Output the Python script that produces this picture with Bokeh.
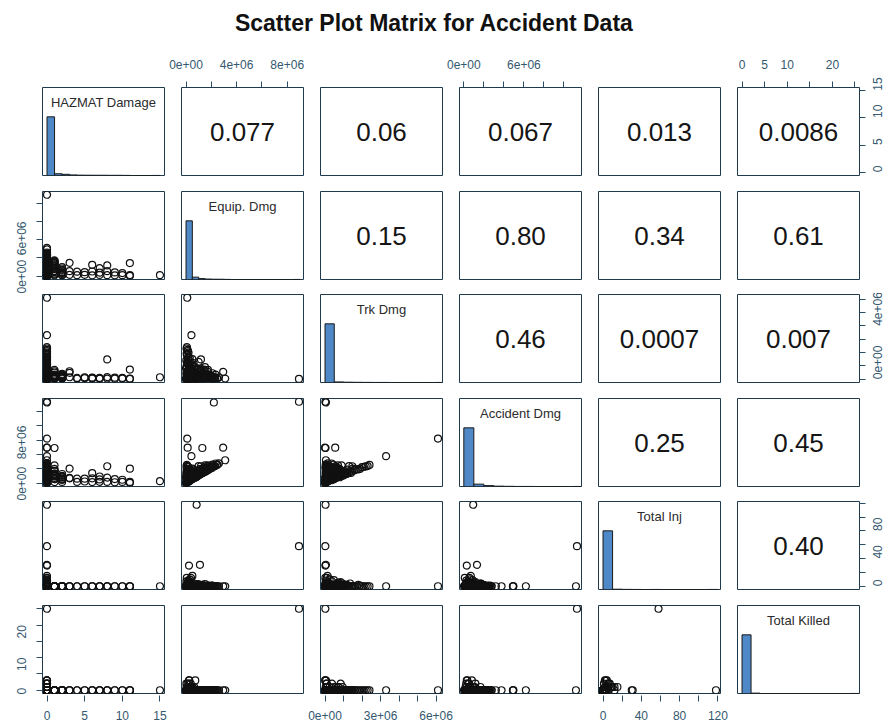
import math
import numpy as np
from bokeh.plotting import figure
from bokeh.layouts import gridplot, column, row
from bokeh.models import Range1d, LinearAxis, FixedTicker, Label, Spacer
from bokeh.embed import file_html
from bokeh.resources import INLINE

# ---------------------------------------------------------------- texts
title_text = "Scatter Plot Matrix  for Accident Data"
var_labels = ["HAZMAT Damage", "Equip. Dmg", "Trk Dmg", "Accident Dmg", "Total Inj", "Total Killed"]

# correlations shown in the upper panels (row-major, upper triangle)
corr_labels = ["0.077", "0.06", "0.067", "0.013", "0.0086",
               "0.15", "0.80", "0.34", "0.61",
               "0.46", "0.0007", "0.007",
               "0.25", "0.45",
               "0.40"]

# ---------------------------------------------------------------- records
hazmat = [
    0, 0, 0, 15, 0, 0, 0, 1, 0, 0, 0, 0, 8, 11, 3, 6, 7, 1, 2, 0,
    2, 2, 3, 3, 4, 4, 5, 5, 6, 6, 7, 7, 8, 8, 9, 9, 10, 10, 11, 11,
    1, 1, 1, 1, 1, 2, 2,
    0, 0, 0, 0, 0, 0, 0, 0, 0, 0, 0, 0, 0, 0, 0, 0, 0, 0, 0, 0,
    0, 0, 0, 0, 0, 0, 0, 0, 0, 0, 0, 0, 0, 0, 0,
    0, 0, 0, 0, 0, 0, 0, 0, 0, 0, 0, 0, 0,
    0, 0, 0, 0, 0, 0, 0, 0, 0, 0,
    0, 0, 0, 0, 0, 0,
    1, 1, 1, 2, 2, 1,
    0, 0, 0, 0, 0, 0, 0, 0, 0, 0, 0, 0, 0, 0,
    0, 0, 0, 0, 0, 0, 0, 0, 0, 0,
    1, 1, 1, 1, 1, 2, 2, 2,
    0, 0, 0, 0, 0, 0, 0, 0, 0, 0, 0, 0, 0, 0, 0, 0, 0, 0, 0, 0, 0, 0,
    0, 0, 0, 0, 0, 0, 0, 0, 0, 0, 0, 0,
]
equip_musd = [
    8.93, 2.20, 0.10, 0.12, 0.84, 0.43, 0.13, 1.29, 2.94, 0.24, 1.10, 0.73, 1.18, 1.44, 1.47, 1.25, 0.88, 1.73, 0.99, 0.40,
    0.45, 0.10, 0.55, 0.15, 0.50, 0.12, 0.45, 0.15, 0.52, 0.10, 0.40, 0.14, 0.55, 0.12, 0.42, 0.10, 0.35, 0.12, 0.13, 0.05,
    0.80, 0.45, 0.20, 1.10, 0.10, 0.70, 0.25,
    0.00, 0.02, 0.05, 0.08, 0.10, 0.12, 0.15, 0.18, 0.20, 0.22, 0.25, 0.28, 0.30, 0.33, 0.35, 0.38, 0.40, 0.45, 0.50, 0.55,
    0.05, 0.10, 0.15, 0.20, 0.30, 0.00, 0.03, 0.06, 0.12, 0.25, 0.60, 0.08, 0.18, 0.35, 0.42,
    0.70, 0.85, 1.00, 1.20, 1.35, 1.50, 1.65, 1.80, 2.00, 2.25, 2.45, 2.60, 3.10,
    0.05, 0.10, 0.02, 0.15, 0.08, 0.20, 0.04, 0.30, 0.12, 0.50,
    0.90, 1.20, 0.60, 1.50, 0.70, 1.00,
    1.40, 0.60, 0.30, 0.40, 0.15, 1.55,
    0.80, 1.05, 1.30, 1.60, 1.90, 2.10, 2.35, 0.95, 1.15, 1.45, 1.75, 2.05, 0.65, 0.50,
    0.10, 0.20, 0.05, 0.15, 0.25, 0.08, 0.30, 0.12, 0.18, 0.22,
    0.55, 0.95, 1.20, 1.50, 1.65, 0.35, 0.60, 0.85,
    0.35, 0.55, 0.75, 0.95, 1.15, 1.35, 1.55, 1.75, 1.95, 2.15, 0.45, 0.65, 0.85, 1.05, 1.25, 1.45,
    0.25, 0.40, 0.15, 0.30, 0.50, 0.70,
    0.30, 0.50, 0.70, 0.90, 1.10, 1.30, 1.50, 1.70, 1.90, 2.10, 2.30, 2.50,
]
trk_musd = [
    0.02, 0.05, 6.10, 0.15, 0.03, 3.30, 0.00, 0.03, 0.55, 0.02, 0.05, 0.02, 1.48, 0.72, 0.60, 0.10, 0.05, 0.70, 0.30, 0.10,
    0.35, 0.05, 0.15, 0.48, 0.10, 0.05, 0.15, 0.08, 0.12, 0.05, 0.10, 0.06, 0.16, 0.05, 0.12, 0.04, 0.10, 0.05, 0.05, 0.02,
    0.20, 0.10, 0.35, 0.10, 0.05, 0.10, 0.20,
    0.00, 0.05, 0.10, 0.02, 0.20, 0.08, 0.30, 0.04, 0.15, 0.40, 0.06, 0.12, 0.25, 0.03, 0.18, 0.09, 0.35, 0.05, 0.14, 0.22,
    0.50, 0.60, 0.45, 0.70, 0.28, 0.80, 0.38, 0.02, 0.55, 0.01, 0.10, 0.90, 0.65, 0.48, 0.07,
    0.05, 0.20, 0.10, 0.30, 0.05, 0.15, 0.10, 0.25, 0.05, 0.12, 0.08, 0.15, 0.05,
    1.00, 1.20, 1.40, 1.60, 1.80, 2.00, 2.30, 1.10, 2.20, 1.50,
    0.80, 0.60, 1.20, 0.90, 0.40, 1.30,
    0.30, 0.50, 0.60, 0.20, 0.40, 0.10,
    0.45, 0.35, 0.50, 0.40, 0.30, 0.45, 0.35, 0.70, 0.80, 0.60, 0.55, 0.20, 0.95, 1.10,
    1.30, 1.70, 1.90, 2.10, 0.85, 2.40, 1.60, 1.20, 1.45, 0.75,
    0.15, 0.25, 0.10, 0.20, 0.30, 0.10, 0.25, 0.15,
    0.25, 0.35, 0.20, 0.45, 0.25, 0.15, 0.35, 0.10, 0.30, 0.20, 0.60, 0.50, 0.70, 0.55, 0.40, 0.65,
    1.00, 0.85, 1.15, 1.35, 0.95, 0.80,
    0.03, 0.05, 0.02, 0.06, 0.04, 0.08, 0.03, 0.05, 0.07, 0.02, 0.06, 0.04,
]
acc_musd = [
    11.30, 11.20, 6.20, 0.30, 0.94, 3.77, 4.94, 4.90, 4.94, 0.30, 1.32, 0.80, 2.37, 2.04, 2.04, 1.42, 0.95, 2.50, 1.30, 0.55,
    0.85, 0.20, 0.75, 0.70, 0.65, 0.20, 0.65, 0.26, 0.70, 0.18, 0.55, 0.22, 0.80, 0.20, 0.60, 0.16, 0.50, 0.20, 0.20, 0.08,
    1.05, 0.60, 0.60, 1.25, 0.18, 0.85, 0.50,
    0.02, 0.09, 0.18, 0.12, 0.35, 0.24, 0.50, 0.25, 0.40, 0.68, 0.35, 0.45, 0.60, 0.40, 0.58, 0.52, 0.80, 0.55, 0.70, 0.85,
    0.60, 0.75, 0.66, 0.95, 0.65, 0.85, 0.45, 0.10, 0.72, 0.30, 0.75, 1.02, 0.90, 0.90, 0.55,
    0.80, 1.10, 1.15, 1.55, 1.45, 1.70, 1.80, 2.10, 2.10, 2.40, 2.55, 2.78, 3.20,
    1.10, 1.35, 1.45, 1.80, 1.95, 2.25, 2.40, 1.45, 2.35, 2.05,
    1.80, 1.90, 1.90, 2.50, 1.20, 2.40,
    1.75, 1.15, 0.95, 0.65, 0.60, 1.70,
    1.30, 1.45, 1.85, 2.05, 2.25, 2.60, 2.75, 1.70, 2.00, 2.10, 2.35, 2.30, 1.65, 1.65,
    1.45, 1.95, 2.00, 2.30, 1.15, 2.55, 1.95, 1.35, 1.70, 1.00,
    0.75, 1.25, 1.35, 1.75, 2.00, 0.50, 0.90, 1.05,
    0.65, 0.95, 1.00, 1.45, 1.45, 1.55, 1.95, 1.90, 2.30, 2.40, 1.10, 1.20, 1.60, 1.65, 1.70, 2.15,
    1.30, 1.30, 1.35, 1.70, 1.50, 1.55,
    0.38, 0.60, 0.77, 1.01, 1.19, 1.43, 1.58, 1.80, 2.02, 2.17, 2.41, 2.59,
]
total_inj = [
    58, 0, 0, 0, 118, 0, 0, 0, 0, 30, 31, 2, 0, 0, 0, 0, 0, 0, 0, 12,
    0, 0, 0, 0, 0, 0, 0, 0, 0, 0, 0, 0, 0, 0, 0, 0, 0, 0, 0, 0,
    0, 0, 0, 0, 0, 0, 0,
    0, 1, 2, 0, 3, 5, 0, 8, 1, 0, 4, 2, 10, 0, 6, 1, 0, 3, 15, 2,
    0, 1, 0, 5, 2, 0, 7, 12, 0, 3, 1, 0, 2, 9, 4,
    0, 2, 0, 1, 0, 3, 0, 0, 1, 0, 0, 0, 0,
    0, 1, 0, 0, 2, 0, 0, 0, 0, 0,
    0, 0, 1, 0, 0, 0,
    0, 0, 0, 0, 0, 0,
    1, 0, 2, 0, 0, 1, 0, 3, 0, 0, 1, 0, 4, 2,
    0, 0, 1, 0, 6, 0, 0, 2, 0, 5,
    0, 0, 0, 0, 0, 0, 0, 0,
    1, 0, 2, 0, 0, 1, 0, 0, 0, 0, 3, 0, 1, 0, 0, 0,
    2, 0, 0, 4, 0, 1,
    0, 1, 0, 0, 2, 0, 0, 1, 0, 0, 0, 0,
]
total_killed = [
    25, 0, 0, 0, 0, 0, 0, 0, 0, 0, 0, 3, 0, 0, 0, 0, 0, 0, 0, 1,
    0, 0, 0, 0, 0, 0, 0, 0, 0, 0, 0, 0, 0, 0, 0, 0, 0, 0, 0, 0,
    0, 0, 0, 0, 0, 0, 0,
    0, 0, 1, 0, 0, 2, 0, 1, 0, 0, 3, 0, 1, 0, 0, 2, 0, 0, 1, 0,
    0, 0, 0, 1, 0, 0, 2, 0, 0, 3, 0, 0, 0, 1, 0,
    0, 0, 0, 0, 0, 0, 0, 0, 0, 0, 0, 0, 0,
    0, 0, 0, 0, 0, 0, 0, 0, 0, 0,
    0, 0, 0, 0, 0, 0,
    0, 0, 0, 0, 0, 0,
    0, 0, 0, 0, 0, 0, 0, 0, 0, 0, 0, 0, 1, 0,
    0, 0, 0, 0, 2, 0, 0, 0, 0, 1,
    0, 0, 0, 0, 0, 0, 0, 0,
    0, 0, 0, 0, 0, 0, 0, 0, 0, 0, 1, 0, 0, 0, 0, 0,
    0, 0, 0, 0, 0, 0,
    0, 0, 0, 0, 0, 0, 0, 0, 0, 0, 0, 0,
]

# ---------------------------------------------------------------- histograms on the diagonal (relative bar heights)
hist_bin_width = [1, 5e5, 5e5, 1e6, 10, 2]
hist_hazmat = [1.0, 0.03, 0.02, 0.01, 0.006, 0.005, 0.004, 0.004, 0.003, 0.003, 0.002, 0.0, 0.0, 0.0, 0.001]
hist_equip = [1.0, 0.04, 0.015, 0.008, 0.005, 0.004, 0.002, 0.0, 0.0, 0.0, 0.0, 0.0, 0.0, 0.0, 0.0, 0.0, 0.0, 0.001]
hist_trk = [1.0, 0.01, 0.005, 0.003, 0.002, 0.001, 0.001, 0.0, 0.0, 0.0, 0.0, 0.0, 0.001]
hist_acc = [1.0, 0.04, 0.015, 0.006, 0.003, 0.001, 0.001, 0.0, 0.0, 0.0, 0.0, 0.001]
hist_inj = [1.0, 0.005, 0.002, 0.001, 0.0, 0.001, 0.0, 0.0, 0.0, 0.0, 0.0, 0.001]
hist_killed = [1.0, 0.006, 0.0, 0.0, 0.0, 0.0, 0.0, 0.0, 0.0, 0.0, 0.0, 0.0, 0.001]

# ---------------------------------------------------------------- axis ticks and labels
hazmat_ticks = [0, 5, 10, 15]
equip_ticks = [0, 2000000, 4000000, 6000000, 8000000]
trk_ticks = [0, 1000000, 2000000, 3000000, 4000000, 5000000, 6000000]
acc_ticks = [0, 2000000, 4000000, 6000000, 8000000, 10000000]
inj_ticks = [0, 20, 40, 60, 80, 100, 120]
killed_ticks = [0, 5, 10, 15, 20, 25]

top_labels = {1: {0: "0e+00", 4000000: "4e+06", 8000000: "8e+06"},
              3: {0: "0e+00", 6000000: "6e+06"},
              5: {0: "0", 5: "5", 10: "10", 20: "20"}}
right_labels = {0: {0: "0", 5: "5", 10: "10", 15: "15"},
                2: {0: "0e+00", 4000000: "4e+06"},
                4: {0: "0", 40: "40", 80: "80"}}
left_labels = {1: {0: "0e+00", 6000000: "6e+06"},
               3: {0: "0e+00", 8000000: "8e+06"},
               5: {0: "0", 10: "10", 20: "20"}}
bottom_labels = {0: {0: "0", 5: "5", 10: "10", 15: "15"},
                 2: {0: "0e+00", 3000000: "3e+06", 6000000: "6e+06"},
                 4: {0: "0", 40: "40", 80: "80", 120: "120"}}

# ---------------------------------------------------------------- styling / layout
FONT = "Liberation Sans"
FRAME_COLOR = "#1e3a4c"
AXIS_COLOR = "#2a4d63"
TICKLABEL_COLOR = "#34586f"
HIST_COLOR = "#4f88c6"
FW, FH = 122, 88
TITLE_H = 48
STRIP_H = 30
col_lr = [(42, 4), (13, 4), (13, 4), (13, 4), (13, 4), (13, 32)]
row_tb = [(39, 8), (8, 14), (1, 14), (2, 14), (1, 8), (8, 1)]
strip_lr = {0: (42, 40), 2: (40, 40), 4: (40, 40)}
standoff = {"above": 13, "below": 9, "left": 15, "right": 12}
DIAG_LABEL_DROP = 14.5   # px from the panel top to the label baseline

variables = [np.array(hazmat, float),
             np.array(equip_musd) * 1e6,
             np.array(trk_musd) * 1e6,
             np.array(acc_musd) * 1e6,
             np.array(total_inj, float),
             np.array(total_killed, float)]
hists = [hist_hazmat, hist_equip, hist_trk, hist_acc, hist_inj, hist_killed]
ticks = [hazmat_ticks, equip_ticks, trk_ticks, acc_ticks, inj_ticks, killed_ticks]

ranges = []
for v in variables:
    lo, hi = float(v.min()), float(v.max())
    pad = 0.04 * (hi - lo)
    ranges.append((lo - pad, hi + pad))


def add_axis(p, side, tick_list, labels):
    ax = LinearAxis(ticker=FixedTicker(ticks=tick_list),
                    major_label_overrides={t: labels.get(t, "") for t in tick_list})
    ax.axis_line_color = None
    ax.major_tick_line_color = AXIS_COLOR
    ax.major_tick_out = 6
    ax.major_tick_in = 0
    ax.minor_tick_out = 0
    ax.minor_tick_in = 0
    ax.major_label_text_font = FONT
    ax.major_label_text_font_size = "12px"
    ax.major_label_text_color = TICKLABEL_COLOR
    if side in ("left", "right"):
        ax.major_label_orientation = math.pi / 2
    ax.major_label_standoff = standoff[side]
    p.add_layout(ax, side)


def base_fig(w, h, xr, yr, l, r, t, b):
    p = figure(width=w, height=h, x_range=xr, y_range=yr,
               x_axis_location=None, y_axis_location=None,
               toolbar_location=None, tools="", output_backend="svg",
               min_border_left=l, min_border_right=r,
               min_border_top=t, min_border_bottom=b)
    p.grid.visible = False
    p.background_fill_color = "white"
    p.border_fill_color = "white"
    return p


rows = []
k = 0
for i in range(6):
    prow = []
    for j in range(6):
        l, r = col_lr[j]
        t, b = row_tb[i]
        yr = Range1d(0, 1.5) if i == j else Range1d(*ranges[i])
        p = base_fig(l + FW + r, t + FH + b, Range1d(*ranges[j]), yr, l, r, t, b)
        p.outline_line_color = FRAME_COLOR
        p.outline_line_width = 1

        if i == j:
            h = np.array(hists[j])
            w = hist_bin_width[j]
            lefts = np.arange(len(h)) * w
            p.quad(left=lefts, right=lefts + w, bottom=0, top=h,
                   fill_color=HIST_COLOR, line_color="#1a1a1a", line_width=1)
            xm = 0.5 * (ranges[j][0] + ranges[j][1])
            p.add_layout(Label(x=xm, y=1.5 - DIAG_LABEL_DROP / FH * 1.5, text=var_labels[j],
                               text_align="center", text_baseline="alphabetic",
                               text_font=FONT, text_font_size="13px", text_color="#2b2b2b"))
        elif j > i:
            xm = 0.5 * (ranges[j][0] + ranges[j][1])
            ym = 0.5 * (ranges[i][0] + ranges[i][1])
            p.add_layout(Label(x=xm, y=ym, text=corr_labels[k],
                               text_align="center", text_baseline="middle",
                               text_font=FONT, text_font_size="26px", text_color="#151515"))
            k += 1
        else:
            p.scatter(variables[j], variables[i], marker="circle", size=7,
                      fill_color=None, line_color="#111111", line_width=1.2)

        if i == 0 and j in top_labels:
            add_axis(p, "above", ticks[j], top_labels[j])
        if j == 5 and i in right_labels:
            add_axis(p, "right", ticks[i], right_labels[i])
        if j == 0 and i in left_labels:
            add_axis(p, "left", ticks[i], left_labels[i])
        prow.append(p)
    rows.append(prow)

grid = gridplot(rows, toolbar_location=None)

# bottom axes of the matrix (own strip so long labels are not cut at the panel edges)
col_frame_left = []
x0 = 0
for l, r in col_lr:
    col_frame_left.append(x0 + l)
    x0 += l + FW + r

strip_items = []
cursor = 0
for j in sorted(strip_lr):
    l, r = strip_lr[j]
    start = col_frame_left[j] - l
    if start > cursor:
        strip_items.append(Spacer(width=start - cursor, height=STRIP_H))
    sp = base_fig(l + FW + r, STRIP_H, Range1d(*ranges[j]), Range1d(0, 1), l, r, 0, STRIP_H - 1)
    sp.outline_line_color = None
    add_axis(sp, "below", ticks[j], bottom_labels[j])
    strip_items.append(sp)
    cursor = start + l + FW + r
strip = row(*strip_items)

total_w = x0
tp = base_fig(total_w, TITLE_H, Range1d(0, total_w), Range1d(0, TITLE_H), 0, 0, 0, 0)
tp.outline_line_color = None
tp.add_layout(Label(x=437, y=TITLE_H - 22, text=title_text, text_align="center", text_baseline="middle",
                    text_font=FONT, text_font_size="23px", text_font_style="bold",
                    text_color="#111111"))

page = column(tp, grid, strip)
open("out.html", "w").write(file_html(page, INLINE))
